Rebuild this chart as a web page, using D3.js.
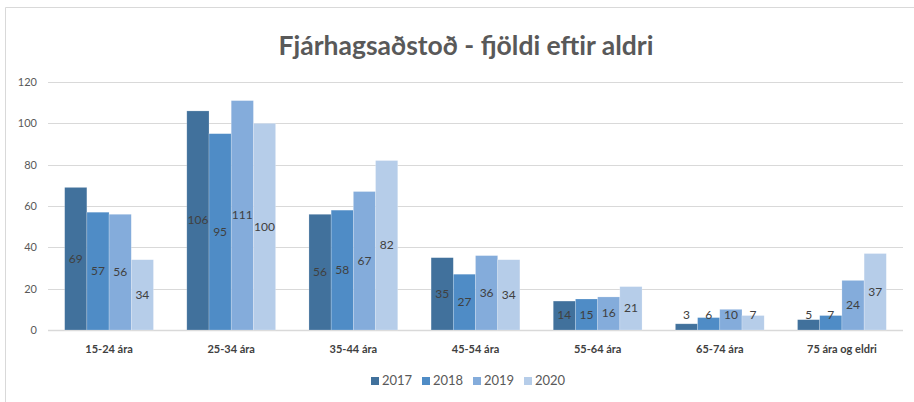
<!DOCTYPE html>
<html>
<head>
<meta charset="utf-8">
<script src="https://cdn.jsdelivr.net/npm/d3@7"></script>
<style>
  body { margin: 0; background: #fff; }
  svg text { font-family: Lato, "Open Sans", sans-serif; }
</style>
</head>
<body>
<div class="chart"></div>
<script>
// data
var categories = ["15-24 ára", "25-34 ára", "35-44 ára", "45-54 ára", "55-64 ára", "65-74 ára", "75 ára og eldri"];
var years = ["2017", "2018", "2019", "2020"];
var v2017 = [69, 106, 56, 35, 14, 3, 5];
var v2018 = [57, 95, 58, 27, 15, 6, 7];
var v2019 = [56, 111, 67, 36, 16, 10, 24];
var v2020 = [34, 100, 82, 34, 21, 7, 37];
var yTicks = [0, 20, 40, 60, 80, 100, 120];

var series = [v2017, v2018, v2019, v2020];
var colors = ["#41719c", "#4f8cc6", "#84acdb", "#b6cde9"];

var width = 914, height = 402;
var plotLeft = 48, plotRight = 903, plotTop = 82, plotBottom = 330;

var svg = d3.select(".chart").append("svg")
    .attr("width", width)
    .attr("height", height);

// chart frame (only left and top are visible)
svg.append("path")
    .attr("d", "M5.5," + height + "V7.5H" + width)
    .attr("fill", "none")
    .attr("stroke", "#d9d9d9");

svg.append("text")
    .attr("x", 466)
    .attr("y", 55)
    .attr("text-anchor", "middle")
    .style("font-size", "26.5px")
    .style("font-weight", "bold")
    .style("fill", "#595959")
    .text("Fjárhagsaðstoð - fjöldi eftir aldri");

var x0 = d3.scaleBand().domain(categories).range([plotLeft, plotRight]).paddingInner(0.273).paddingOuter(0.1365);
var x1 = d3.scaleBand().domain(years).range([0, x0.bandwidth()]);
var y = d3.scaleLinear().domain([0, 120]).range([plotBottom, plotTop]);

// gridlines
svg.append("g").selectAll("line")
    .data(yTicks)
    .enter().append("line")
    .attr("x1", plotLeft)
    .attr("x2", plotRight)
    .attr("y1", function(d) { return Math.round(y(d)) + 0.5; })
    .attr("y2", function(d) { return Math.round(y(d)) + 0.5; })
    .attr("stroke", "#d9d9d9")
    .attr("stroke-width", function(d) { return d === 0 ? 1.5 : 1; });

var yAxis = svg.append("g")
    .attr("transform", "translate(" + (plotLeft - 11) + ",0)")
    .call(d3.axisLeft(y).tickValues(yTicks).tickSize(0).tickPadding(0));
yAxis.select(".domain").remove();
yAxis.selectAll("text")
    .style("font-family", "Lato, 'Open Sans', sans-serif")
    .style("font-size", "11px")
    .style("fill", "#595959");

var groups = svg.append("g").selectAll("g")
    .data(categories)
    .enter().append("g")
    .attr("transform", function(d) { return "translate(" + x0(d) + ",0)"; });

var cells = groups.selectAll("g")
    .data(function(d, i) { return years.map(function(yr, j) { return { year: yr, value: series[j][i], j: j }; }); })
    .enter().append("g");

cells.append("rect")
    .attr("x", function(d) { return x1(d.year); })
    .attr("width", x1.bandwidth())
    .attr("y", function(d) { return y(d.value); })
    .attr("height", function(d) { return plotBottom - y(d.value); })
    .attr("fill", function(d) { return colors[d.j]; })
    .attr("stroke", "#ffffff")
    .attr("stroke-opacity", 0.35)
    .attr("stroke-width", 0.6);

cells.append("text")
    .attr("x", function(d) { return x1(d.year) + x1.bandwidth() / 2; })
    .attr("y", function(d) { return Math.min(y(d.value / 2), plotBottom - 15) + 4; })
    .attr("text-anchor", "middle")
    .style("font-size", "12px")
    .style("fill", "#404040")
    .text(function(d) { return d.value; });

// category labels
svg.append("g").selectAll("text")
    .data(categories)
    .enter().append("text")
    .attr("x", function(d) { return x0(d) + x0.bandwidth() / 2; })
    .attr("y", 353)
    .attr("text-anchor", "middle")
    .style("font-size", "11px")
    .style("font-weight", "bold")
    .style("fill", "#404040")
    .text(function(d) { return d; });

// legend
var legend = svg.append("g").selectAll("g")
    .data(years)
    .enter().append("g")
    .attr("transform", function(d, i) { return "translate(" + (371 + i * 51) + ",377)"; });

legend.append("rect")
    .attr("width", 8)
    .attr("height", 8)
    .attr("fill", function(d, i) { return colors[i]; });

legend.append("text")
    .attr("x", 11)
    .attr("y", 8)
    .style("font-size", "13px")
    .style("fill", "#595959")
    .text(function(d) { return d; });
</script>
</body>
</html>
